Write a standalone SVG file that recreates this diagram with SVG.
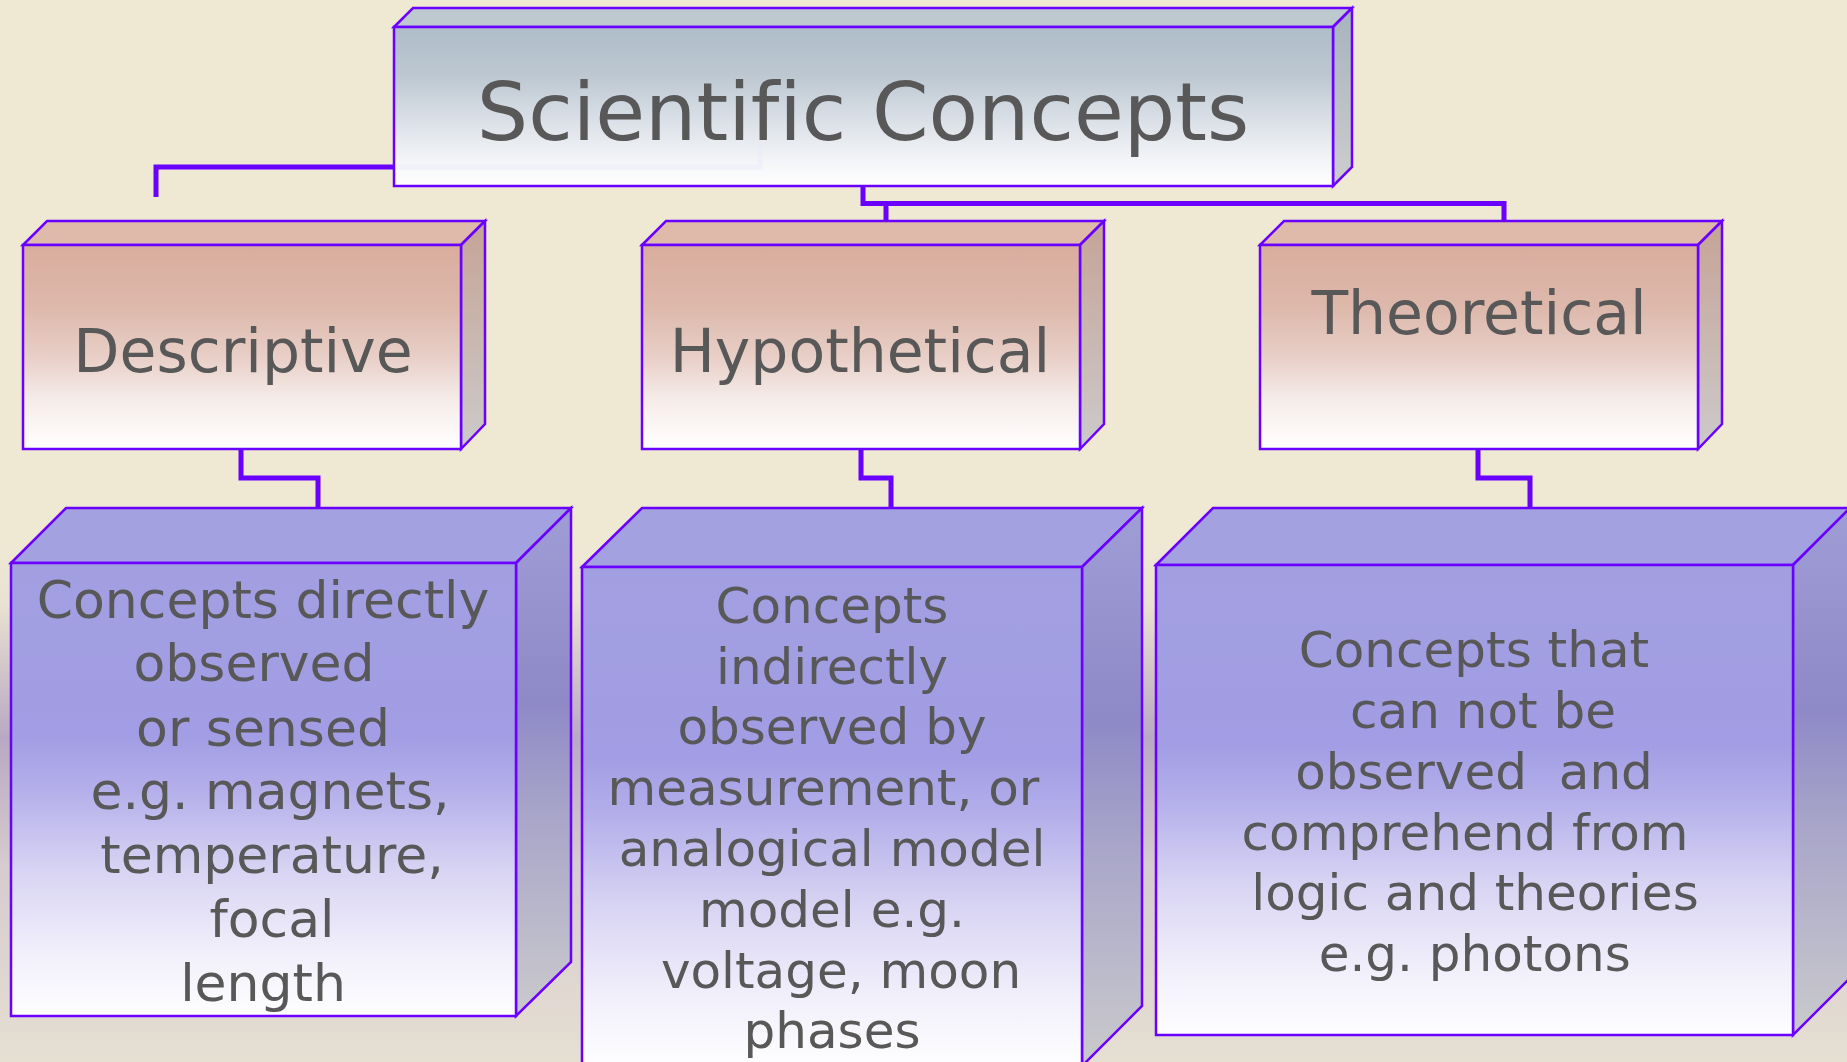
<svg xmlns="http://www.w3.org/2000/svg" width="1847" height="1062" viewBox="0 0 1847 1062">
<style>
.edge{fill:none;stroke:#6A00FF;stroke-width:5;stroke-linejoin:miter}
.bx{stroke:#6A00FF;stroke-width:2.5;stroke-linejoin:miter}
text{font-family:"DejaVu Sans",Verdana,sans-serif;fill:#585858;text-anchor:middle;white-space:pre;font-variant-ligatures:none;font-feature-settings:"liga" 0}
.t0{font-size:81px}
.t1{font-size:60px}
.t2a{font-size:52px}
.t2{font-size:50px}
</style>
<defs>
<linearGradient id="bg" x1="0" y1="0" x2="0" y2="1">
<stop offset="0" stop-color="#EFE9D4"/>
<stop offset="0.12" stop-color="#EAE2D2"/>
<stop offset="0.38" stop-color="#B9A8C3"/>
<stop offset="0.62" stop-color="#D6CBCF"/>
<stop offset="1" stop-color="#E6DFD2"/>
</linearGradient>
<linearGradient id="gTopF" x1="0" y1="0" x2="0" y2="1">
<stop offset="0" stop-color="#AFBDC8"/>
<stop offset="0.3" stop-color="#BCC7D1"/>
<stop offset="0.6" stop-color="#DCE1E8"/>
<stop offset="0.85" stop-color="#F4F5F8"/>
<stop offset="1" stop-color="#FFFFFF"/>
</linearGradient>
<linearGradient id="gTopS" x1="0" y1="0" x2="0" y2="1">
<stop offset="0" stop-color="#A7B3BE"/>
<stop offset="1" stop-color="#CDCDCD"/>
</linearGradient>
<linearGradient id="gMidF" x1="0" y1="0" x2="0" y2="1">
<stop offset="0" stop-color="#D9AD9E"/>
<stop offset="0.3" stop-color="#DDB8AB"/>
<stop offset="0.55" stop-color="#E8CFC7"/>
<stop offset="0.75" stop-color="#F5EBE8"/>
<stop offset="1" stop-color="#FFFFFF"/>
</linearGradient>
<linearGradient id="gMidS" x1="0" y1="0" x2="0" y2="1">
<stop offset="0" stop-color="#C6A396"/>
<stop offset="1" stop-color="#CCCACA"/>
</linearGradient>
<linearGradient id="gBotF" x1="0" y1="0" x2="0" y2="1">
<stop offset="0" stop-color="#A29FE1"/>
<stop offset="0.38" stop-color="#A29DE4"/>
<stop offset="0.5" stop-color="#B4AFEA"/>
<stop offset="0.68" stop-color="#D8D4F3"/>
<stop offset="0.85" stop-color="#F0EEFA"/>
<stop offset="1" stop-color="#FEFEFF"/>
</linearGradient>
<linearGradient id="gBotS" x1="0" y1="0" x2="0" y2="1">
<stop offset="0" stop-color="#9F9DD6"/>
<stop offset="0.38" stop-color="#8E89C7"/>
<stop offset="0.6" stop-color="#A8A5C9"/>
<stop offset="1" stop-color="#CACACC"/>
</linearGradient>
</defs>

<rect x="0" y="0" width="1847" height="1062" fill="#EFE9D4"/>
<rect x="0" y="540" width="1847" height="522" fill="url(#bg)"/>

<g id="connectors">
<polyline class="edge" points="394,167 156,167 156,197"/>
<polyline class="edge" points="863,186 863,203.5 1504,203.5 1504,221"/>
<polyline class="edge" points="886,203.5 886,221"/>
<polyline class="edge" points="241,449 241,478 318,478 318,508"/>
<polyline class="edge" points="861,449 861,478 891,478 891,508"/>
<polyline class="edge" points="1478,449 1478,478 1530,478 1530,508"/>
</g>

<g id="node-scientific-concepts">
<polygon class="bx" points="394,27 413,8 1352,8 1333,27" fill="#BDC9CF"/>
<polygon class="bx" points="1333,27 1352,8 1352,167 1333,186" fill="url(#gTopS)"/>
<rect class="bx" x="394" y="27" width="939" height="159" fill="url(#gTopF)"/>
<polyline points="396,167 760,167 760,138" fill="none" stroke="#ECE8FB" stroke-opacity="0.45" stroke-width="5"/>
<text class="t0" x="863" y="139.5">Scientific Concepts</text>
</g>

<g id="node-descriptive">
<polygon class="bx" points="23,245 47,221 485,221 461,245" fill="#DFB9AA"/>
<polygon class="bx" points="461,245 485,221 485,424 461,449" fill="url(#gMidS)"/>
<rect class="bx" x="23" y="245" width="438" height="204" fill="url(#gMidF)"/>
<text class="t1" x="243" y="371.5">Descriptive</text>
</g>

<g id="node-hypothetical">
<polygon class="bx" points="642,245 666,221 1104,221 1080,245" fill="#DFB9AA"/>
<polygon class="bx" points="1080,245 1104,221 1104,424 1080,449" fill="url(#gMidS)"/>
<rect class="bx" x="642" y="245" width="438" height="204" fill="url(#gMidF)"/>
<text class="t1" x="860" y="371.5">Hypothetical</text>
</g>

<g id="node-theoretical">
<polygon class="bx" points="1260,245 1284,221 1722,221 1698,245" fill="#DFB9AA"/>
<polygon class="bx" points="1698,245 1722,221 1722,424 1698,449" fill="url(#gMidS)"/>
<rect class="bx" x="1260" y="245" width="438" height="204" fill="url(#gMidF)"/>
<text class="t1" x="1479" y="334">Theoretical</text>
</g>

<g id="node-descriptive-detail">
<polygon class="bx" points="11,563 66,508 571,508 516,563" fill="#A4A1E1"/>
<polygon class="bx" points="516,563 571,508 571,962 516,1016" fill="url(#gBotS)"/>
<rect class="bx" x="11" y="563" width="505" height="453" fill="url(#gBotF)"/>
<text class="t2a" x="263" y="617.6">Concepts directly</text>
<text class="t2a" x="254" y="681">observed</text>
<text class="t2a" x="263" y="745.5">or sensed</text>
<text class="t2a" x="270" y="809">e.g. magnets,</text>
<text class="t2a" x="272" y="873">temperature,</text>
<text class="t2a" x="272" y="937">focal</text>
<text class="t2a" x="263" y="1001">length</text>
</g>

<g id="node-hypothetical-detail">
<polygon class="bx" points="582,567 642,508 1142,508 1082,567" fill="#A4A1E1"/>
<polygon class="bx" points="1082,567 1142,508 1142,1006 1082,1066" fill="url(#gBotS)"/>
<rect class="bx" x="582" y="567" width="500" height="499" fill="url(#gBotF)"/>
<text class="t2" x="832" y="622.6">Concepts</text>
<text class="t2" x="832" y="683.5">indirectly</text>
<text class="t2" x="832" y="744.4">observed by</text>
<text class="t2" x="823.5" y="805">measurement, or</text>
<text class="t2" x="832" y="865.6">analogical model</text>
<text class="t2" x="832" y="926.5">model e.g.</text>
<text class="t2" x="841" y="987.5">voltage, moon</text>
<text class="t2" x="832" y="1048">phases</text>
</g>

<g id="node-theoretical-detail">
<polygon class="bx" points="1156,565 1213,508 1850,508 1793,565" fill="#A4A1E1"/>
<polygon class="bx" points="1793,565 1850,508 1850,978 1793,1035" fill="url(#gBotS)"/>
<rect class="bx" x="1156" y="565" width="637" height="470" fill="url(#gBotF)"/>
<text class="t2" x="1474" y="667.4">Concepts that</text>
<text class="t2" x="1483" y="728.3">can not be</text>
<text class="t2" x="1474" y="788.5">observed  and</text>
<text class="t2" x="1465" y="849.5">comprehend from</text>
<text class="t2" x="1475" y="910.4">logic and theories</text>
<text class="t2" x="1474.7" y="970.6">e.g. photons</text>
</g>
</svg>
